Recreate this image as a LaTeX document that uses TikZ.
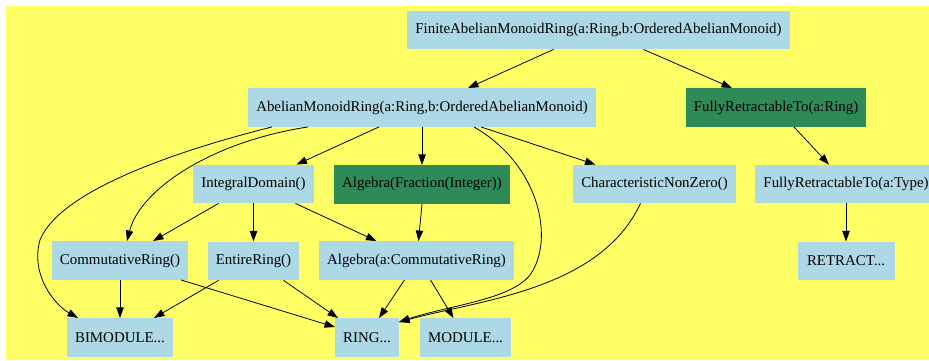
\documentclass[tikz,border=0pt]{standalone}
\usepackage{fontspec}
\setmainfont{Liberation Serif}
\usepackage{tikz}
\usetikzlibrary{arrows.meta,positioning}
\definecolor{canvas}{HTML}{FFFF66}
\definecolor{catblue}{HTML}{ADD8E6}
\definecolor{catgreen}{HTML}{2E8B57}
\tikzset{
  >={Triangle[length=10.5pt,width=7.4pt]},
  catbox/.style={fill=catblue,inner xsep=8pt,inner ysep=0pt,minimum height=38.5pt,
                 font=\fontsize{14.9}{17}\selectfont},
  pkgbox/.style={catbox,fill=catgreen},
  arrow/.style={->,line width=0.8pt,draw=black}
}
\begin{document}
\begin{tikzpicture}[node distance=38pt,x=1pt,y=-1pt]
  \useasboundingbox (0,0) rectangle (929,360);
  \fill[canvas] (6,6) rectangle (929,360);

  % rows of categories
  \node[catbox] (famr) at (598.5,30) {FiniteAbelianMonoidRing(a:Ring,b:OrderedAbelianMonoid)};
  \node[catbox] (amr) at (422,107.5) {AbelianMonoidRing(a:Ring,b:OrderedAbelianMonoid)};
  \node[pkgbox] (frtr) at (776,107.5) {FullyRetractableTo(a:Ring)};
  \node[catbox] (intdom) at (253.5,184) {IntegralDomain()};
  \node[pkgbox,below=of amr] (algfrac) {Algebra(Fraction(Integer))};
  \node[catbox] (charnz) at (654.5,184) {CharacteristicNonZero()};
  \node[catbox,minimum width=180pt] (frtt) at (846,184) {FullyRetractableTo(a:Type)};
  \node[catbox] (commring) at (120,260.5) {CommutativeRing()};
  \node[catbox,below=of intdom] (entire) {EntireRing()};
  \node[catbox] (algcr) at (416.5,260.5) {Algebra(a:CommutativeRing)};
  \node[catbox,minimum width=97pt,below=of frtt] (retract) {RETRACT...};
  \node[catbox,below=of commring] (bimod) {BIMODULE...};
  \node[catbox] (ring) at (367,337.5) {RING...};
  \node[catbox] (module) at (465.5,337.5) {MODULE...};

  % straight edges
  \draw[arrow] ([xshift=-45pt]famr.south) -- ([xshift=46pt]amr.north);
  \draw[arrow] ([xshift=45pt]famr.south) -- ([xshift=-44pt]frtr.north);
  \draw[arrow] ([xshift=-43pt]amr.south) -- ([xshift=43pt]intdom.north);
  \draw[arrow] (amr.south) -- (algfrac.north);
  \draw[arrow] ([xshift=59pt]amr.south) -- ([xshift=-59pt]charnz.north);
  \draw[arrow] ([xshift=18pt]frtr.south) -- ([xshift=-17pt]frtt.north);
  \draw[arrow] (frtt.south) -- (retract.north);
  \draw[arrow] ([xshift=-35pt]intdom.south) -- ([xshift=33pt]commring.north);
  \draw[arrow] (intdom.south) -- (entire.north);
  \draw[arrow] ([xshift=42pt]intdom.south) -- ([xshift=-40pt]algcr.north);
  \draw[arrow] (algfrac.south) -- ([xshift=2pt]algcr.north);
  \draw[arrow] (commring.south) -- (bimod.north);
  \draw[arrow] ([xshift=61pt]commring.south) -- ([yshift=-9pt]ring.north west);
  \draw[arrow] ([xshift=-35pt]entire.south) -- ([xshift=34pt]bimod.north);
  \draw[arrow] ([xshift=30pt]entire.south) -- ([xshift=-29pt]ring.north);
  \draw[arrow] ([xshift=-12pt]algcr.south) -- ([xshift=12pt]ring.north);
  \draw[arrow] ([xshift=14pt]algcr.south) -- ([xshift=-12pt]module.north);

  % curved edges
  \draw[arrow] ([xshift=-150pt]amr.south) .. controls (180,150) and (60,190) .. (40,240)
    .. controls (30,275) and (55,305) .. ([xshift=-42pt]bimod.north);
  \draw[arrow] ([xshift=-114pt]amr.south) .. controls (210,142) and (140,190)
    .. ([xshift=7pt]commring.north);
  \draw[arrow] ([xshift=52pt]amr.south) .. controls (540,165) and (555,240) .. (530,275)
    .. controls (510,300) and (450,305) .. ([yshift=-4pt]ring.north east);
  \draw[arrow] ([xshift=-14pt]charnz.south) .. controls (600,290) and (480,300)
    .. ([yshift=-4pt]ring.north east);
\end{tikzpicture}
\end{document}
